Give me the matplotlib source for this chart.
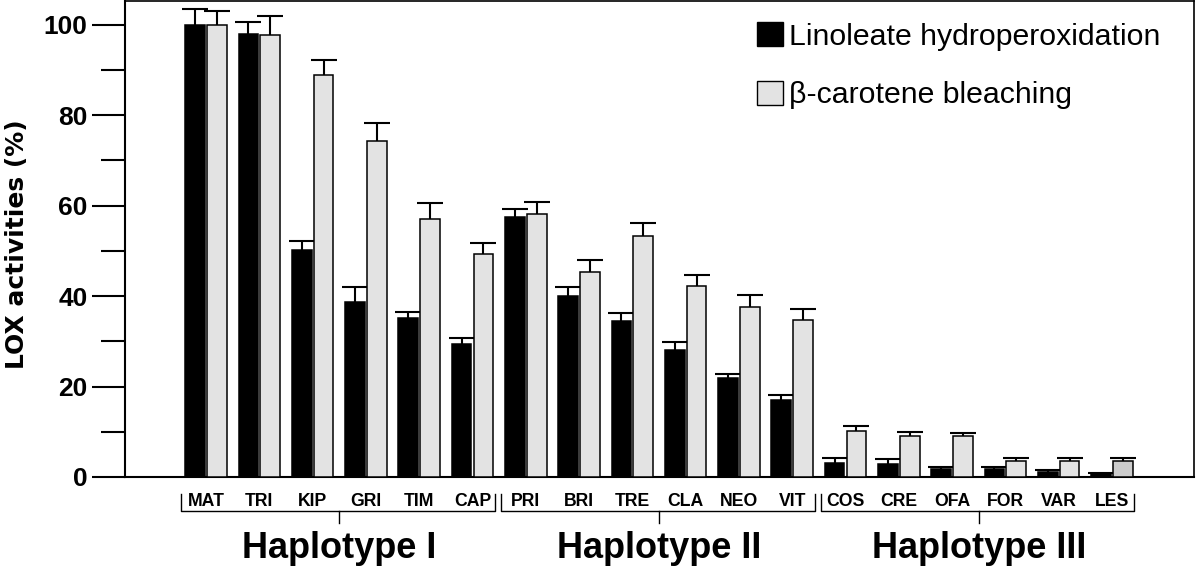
import matplotlib
matplotlib.use("Agg")
import matplotlib.pyplot as plt
import matplotlib.transforms as mtransforms
from matplotlib.patches import Patch
import numpy as np

plt.rcParams['font.family'] = ['Liberation Sans', 'DejaVu Sans']

# ---- data ----
cultivars = ["MAT", "TRI", "KIP", "GRI", "TIM", "CAP",
             "PRI", "BRI", "TRE", "CLA", "NEO", "VIT",
             "COS", "CRE", "OFA", "FOR", "VAR", "LES"]
linoleate = [100, 98, 50.1, 38.7, 35.1, 29.5,
             57.4, 40.0, 34.4, 28.1, 21.9, 17.0,
             3.1, 2.9, 1.8, 1.8, 1.2, 0.7]
linoleate_err = [3.5, 2.6, 2.1, 3.2, 1.3, 1.3,
                 1.8, 2.0, 1.8, 1.8, 0.9, 1.1,
                 1.1, 1.0, 0.5, 0.5, 0.4, 0.2]
carotene = [100, 97.7, 88.8, 74.3, 57.0, 49.3,
            58.1, 45.3, 53.3, 42.3, 37.6, 34.7,
            10.1, 9.0, 9.0, 3.6, 3.6, 3.6]
carotene_err = [3.0, 4.2, 3.4, 4.0, 3.6, 2.5,
                2.7, 2.6, 2.8, 2.3, 2.6, 2.5,
                1.2, 1.0, 0.7, 0.7, 0.6, 0.7]
haplotypes = ["Haplotype I", "Haplotype II", "Haplotype III"]
haplotype_sizes = [6, 6, 6]
series_labels = ["Linoleate hydroperoxidation", "\u03b2-carotene bleaching"]
yticks_major = [0, 20, 40, 60, 80, 100]
yticks_minor = [10, 30, 50, 70, 90]

# ---- figure ----
fig = plt.figure(figsize=(12, 5.75), dpi=100)
ax = fig.add_axes([125/1200, 1 - 477/575, (1194-125)/1200, (477-1)/575])

x = np.arange(len(cultivars))
w = 0.37
off = 0.205
gray_colors = ['#e3e3e3'] * (len(cultivars) - 1) + ['#cccccc']

ax.bar(x - off, linoleate, width=w, color='black', edgecolor='black',
       linewidth=1.1, zorder=3)
ax.bar(x + off, carotene, width=w, color=gray_colors, edgecolor='black',
       linewidth=1.1, zorder=3)

for xs, ys, es in [(x - off, linoleate, linoleate_err),
                   (x + off, carotene, carotene_err)]:
    eb = ax.errorbar(xs, ys, yerr=[np.zeros(len(es)), es], fmt='none',
                     ecolor='black', elinewidth=1.5, capsize=9.4,
                     capthick=1.5, zorder=2)
    caps = eb[1]
    if len(caps) >= 2:
        caps[0].set_visible(False)

ax.set_xlim(-1.52, 18.54)
ax.set_ylim(0, 105.2)
ax.set_yticks(yticks_major)
ax.set_yticks(yticks_minor, minor=True)
ax.set_yticklabels([str(v) for v in yticks_major], fontsize=19,
                   fontweight='bold')
ax.tick_params(axis='y', which='major', length=24, width=1.5, pad=3,
               direction='out')
ax.tick_params(axis='y', which='minor', length=17, width=1.5,
               direction='out')
ax.set_xticks(x)
ax.set_xticklabels(cultivars, fontsize=12.7, fontweight='bold')
ax.tick_params(axis='x', length=0, pad=11.5)

ax.set_ylabel("LOX activities (%)", fontsize=18, fontweight='bold',
              family=['DejaVu Sans'])
ax.yaxis.set_label_coords(-0.09, 0.489)

for side in ['left', 'bottom']:
    ax.spines[side].set_linewidth(1.5)
for side in ['top', 'right']:
    ax.spines[side].set_linewidth(1.2)

# ---- haplotype brackets ----
trans = mtransforms.blended_transform_factory(ax.transData, ax.transAxes)
y_h = (477 - 511) / 476
y_up = (477 - 494) / 476
y_dn = (477 - 523) / 476
y_txt = (477 - 558) / 476
start = 0
for name, n in zip(haplotypes, haplotype_sizes):
    a = start - 0.46
    b = start + n - 1 + 0.42
    c = start + (n - 1) / 2
    ax.plot([a, a, b, b], [y_up, y_h, y_h, y_up], color='black', lw=1.0,
            transform=trans, clip_on=False)
    ax.plot([c, c], [y_h, y_dn], color='black', lw=1.0, transform=trans,
            clip_on=False)
    ax.text(c, y_txt, name, transform=trans, ha='center', va='baseline',
            fontsize=26, fontweight='bold')
    start += n

# ---- legend ----
handles = [Patch(facecolor='black', edgecolor='black', linewidth=1.0),
           Patch(facecolor='#e3e3e3', edgecolor='black', linewidth=1.0)]
ax.legend(handles, series_labels, loc='upper left',
          bbox_to_anchor=((757-125)/1069, 1 - 21/476), frameon=False,
          fontsize=21.8, handlelength=0.85, handleheight=0.85,
          handletextpad=0.22, labelspacing=1.0, borderpad=0,
          borderaxespad=0)

fig.savefig("out.png", dpi=100)
